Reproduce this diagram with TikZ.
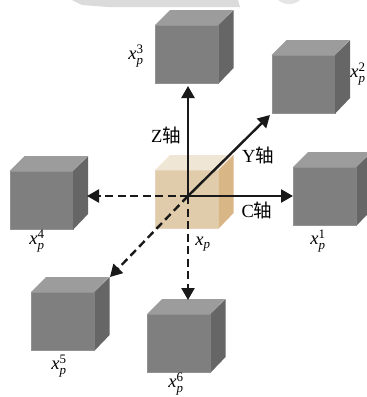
\documentclass[tikz,border=0pt]{standalone}
\usepackage{amsmath}
\usepackage{fontspec}
\setmainfont{Liberation Serif}
\newfontfamily\cjk{Noto Sans CJK SC}
\usetikzlibrary{arrows.meta}
\definecolor{cfront}{HTML}{7F7F7F}
\definecolor{ctop}{HTML}{9C9C9C}
\definecolor{cside}{HTML}{666666}
\definecolor{bfront}{HTML}{E0CCAB}
\definecolor{btop}{HTML}{EFE6D6}
\definecolor{bside}{HTML}{D9B685}
\tikzset{
  x=1pt,y=-1pt,
  face/.style={minimum width=63pt,minimum height=58pt,inner sep=0pt,anchor=north west,draw=#1!85!white,line width=.6pt,fill=#1},
  axis/.style={line width=2.4pt,-{Triangle[length=12pt,width=13pt]},black!90},
  dashaxis/.style={axis,dash pattern=on 8pt off 4.5pt},
  lab/.style={inner sep=0pt,font=\fontsize{18.5}{19}\selectfont},
}
\newcommand{\cubeat}[6]{% name, x, y, front, top, side
  \node[face=#4] (#1) at (#2,#3) {};
  \fill[#5] (#1.north west) -- ++(15,-15) -- ++(63,0) -- (#1.north east) -- cycle;
  \fill[#6] (#1.north east) -- ++(15,-15) -- ++(0,58) -- (#1.south east) -- cycle;
}
\newcommand{\xlab}[1]{$\text{\itshape x}_{\text{\itshape p}}^{\text{\upshape #1}}$}
\begin{document}
\begin{tikzpicture}
\useasboundingbox (0,0) rectangle (367,397);
\fill[black!14] (72,0) -- (82,5) -- (108,7) -- (240,7) -- (238,0) -- cycle;
\fill[black!10] (278,0) .. controls (285,6) and (295,5) .. (300,0) -- cycle;
\cubeat{c3}{155}{25}{cfront}{ctop}{cside}
\cubeat{c2}{271.5}{55}{cfront}{ctop}{cside}
\cubeat{c1}{293}{167}{cfront}{ctop}{cside}
\cubeat{c4}{9.5}{171}{cfront}{ctop}{cside}
\cubeat{c0}{155}{170}{bfront}{btop}{bside}
\cubeat{c5}{31}{292}{cfront}{ctop}{cside}
\cubeat{c6}{147}{314}{cfront}{ctop}{cside}
\coordinate (o) at (188,196);
\coordinate (tz) at (188,86);
\coordinate (ty) at (270,115);
\coordinate (tc) at (293,196);
\coordinate (tl) at (87,196);
\coordinate (tsw) at (110,277);
\coordinate (td) at (188,300);
\draw[axis] (o) -- (tz);
\draw[axis] (o) -- (ty);
\draw[axis] (o) -- (tc);
\draw[dashaxis] (o) -- (tl);
\draw[dashaxis] (o) -- (tsw);
\draw[dashaxis] (o) -- (td);
\node[lab] (lz) at (166,135) {Z{\cjk 轴}};
\node[lab] (ly) at (258,155) {Y{\cjk 轴}};
\node[lab] (lc) at (257,210) {C{\cjk 轴}};
\node[lab] (l3) at (136,56) {\xlab{3}};
\node[lab] (l2) at (358,74) {\xlab{2}};
\node[lab] (l1) at (318,241) {\xlab{1}};
\node[lab] (l4) at (37,241) {\xlab{4}};
\node[lab] (l0) at (203,244) {$\text{\itshape x}_{\text{\itshape p}}$};
\node[lab] (l5) at (59,366) {\xlab{5}};
\node[lab] (l6) at (176,384) {\xlab{6}};
\end{tikzpicture}
\end{document}
